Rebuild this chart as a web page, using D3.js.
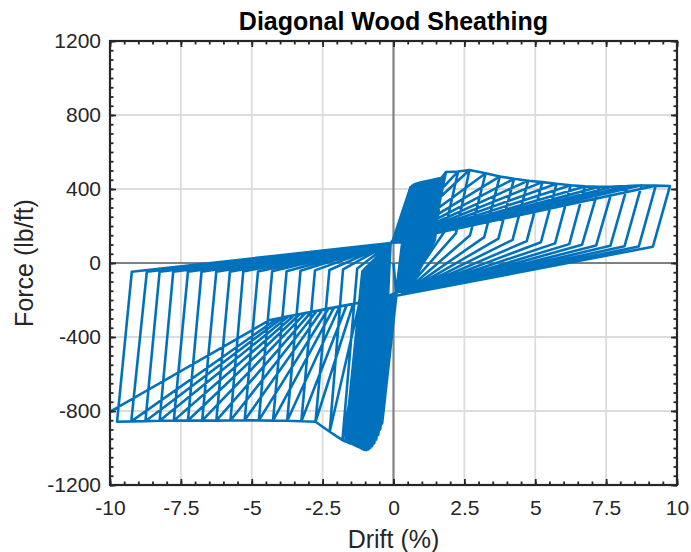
<!DOCTYPE html>
<html>
<head>
<meta charset="utf-8">
<script src="https://cdn.jsdelivr.net/npm/d3@7"></script>
<style>
  html, body { margin: 0; padding: 0; background: #fff; }
  svg { display: block; }
  text { font-family: "Liberation Sans", Arial, Helvetica, sans-serif; }
</style>
</head>
<body>
<svg id="chart" width="691" height="552"></svg>
<script>
// ---- Axis ticks ----
const xTicks = [-10, -7.5, -5, -2.5, 0, 2.5, 5, 7.5, 10];
const yTicks = [-1200, -800, -400, 0, 400, 800, 1200];

// ---- Pinch points the loops pass through near zero drift ----
const pinchUp = [-0.1, 108];
const pinchDown = [0.28, -172];

// ---- Small cycles (drift %, force lb/ft) ----
// negative excursions: shelf knee -> peak -> unloading top
const smallNegKneeDrift = [0.1, 0.07, 0.04, 0.01, -0.02, -0.05, -0.08, -0.11, -0.14, -0.17, -0.2, -0.23, -0.26, -0.29, -0.32, -0.35, -0.38, -0.42, -0.46, -0.5];
const smallNegKneeForce = [-178, -179, -180, -181, -182, -183, -184, -185, -185, -186, -187, -188, -189, -190, -191, -192, -193, -194, -196, -197];
const smallNegDrift = [-0.4, -0.47, -0.54, -0.61, -0.68, -0.75, -0.82, -0.89, -0.96, -1.03, -1.1, -1.17, -1.24, -1.31, -1.38, -1.45, -1.52, -1.58, -1.64, -1.7];
const smallNegForce = [-867, -900, -930, -955, -975, -990, -1000, -1008, -1012, -1010, -1006, -1000, -995, -990, -985, -980, -976, -972, -968, -965];
const smallNegTopDrift = [-0.15, -0.2, -0.25, -0.3, -0.35, -0.4, -0.45, -0.5, -0.55, -0.6, -0.65, -0.7, -0.75, -0.8, -0.85, -0.9, -0.95, -1.0, -1.05, -1.1];
const smallNegTopForce = [-40, -42, -44, -46, -48, -50, -50, -50, -50, -50, -50, -50, -50, -50, -50, -50, -50, -50, -48, -46];

// positive excursions: shelf start -> peak -> drop -> lower pinch
const smallPosShelfDrift = [-0.05, 0.02, 0.09, 0.16, 0.23, 0.3, 0.37, 0.44, 0.51, 0.58, 0.65, 0.72, 0.79, 0.86, 0.93, 1.0, 1.07, 1.14, 1.2, 1.26];
const smallPosShelfForce = [110, 111, 112, 113, 113, 114, 114, 115, 115, 116, 117, 118, 119, 120, 120, 121, 122, 123, 124, 124];
const smallPosDrift = [0.6, 0.66, 0.72, 0.78, 0.84, 0.9, 0.96, 1.02, 1.08, 1.14, 1.2, 1.26, 1.32, 1.38, 1.44, 1.5, 1.56, 1.62, 1.68, 1.74];
const smallPosForce = [410, 418, 424, 428, 431, 434, 436, 438, 440, 442, 444, 446, 448, 450, 452, 454, 456, 458, 461, 465];
const smallPosDropDrift = [0.32, 0.38, 0.44, 0.5, 0.56, 0.62, 0.68, 0.74, 0.8, 0.86, 0.92, 0.98, 1.04, 1.1, 1.16, 1.22, 1.28, 1.34, 1.4, 1.46];
const smallPosDropForce = [125, 125, 125, 125, 125, 125, 125, 125, 125, 125, 125, 125, 125, 125, 125, 125, 125, 125, 125, 125];
const smallPosPinchDrift = [0.1, 0.13, 0.15, 0.18, 0.2, 0.23, 0.25, 0.28, 0.3, 0.33, 0.35, 0.38, 0.4, 0.43, 0.45, 0.48, 0.5, 0.53, 0.56, 0.6];
const smallPosPinchForce = [-150, -149, -148, -147, -146, -145, -144, -143, -142, -141, -140, -139, -138, -137, -136, -135, -134, -133, -132, -131];

// ---- Large cycles ----
const largeNegKneeDrift = [-0.6, -0.9, -1.2, -1.42, -1.65, -1.9, -2.1, -2.3, -2.5, -2.7, -2.9, -3.1, -3.3, -3.5, -3.7, -3.9, -4.1];
const largeNegKneeForce = [-198, -207, -216, -220, -227, -235, -241, -247, -252, -258, -264, -270, -276, -282, -288, -294, -300];
const largeNegDrift = [-1.8, -2.25, -2.75, -3.25, -3.75, -4.25, -4.75, -5.25, -5.75, -6.25, -6.75, -7.25, -7.75, -8.25, -8.75, -9.25, -9.75];
const largeNegForce = [-957, -912, -858, -855, -853, -852, -851, -850, -851, -852, -852, -851, -852, -853, -855, -856, -858];
const largeNegTopDrift = [-1.28, -1.78, -2.26, -2.77, -3.28, -3.77, -4.28, -4.78, -5.3, -5.77, -6.25, -6.77, -7.25, -7.77, -8.25, -8.7, -9.23];
const largeNegTopForce = [-30, -35, -38, -40, -42, -44, -45, -46, -46, -47, -47, -47, -47, -47, -47, -47, -47];

const largePosDrift = [1.85, 2.28, 2.68, 3.25, 3.75, 4.25, 4.75, 5.25, 5.75, 6.25, 6.75, 7.25, 7.75, 8.25, 8.75, 9.25, 9.75];
const largePosForce = [492, 495, 503, 485, 468, 455, 445, 437, 428, 420, 414, 412, 413, 416, 420, 418, 416];
const largePosDropDrift = [1.45, 1.8, 2.2, 2.7, 3.2, 3.7, 4.2, 4.7, 5.2, 5.7, 6.2, 6.65, 7.15, 7.65, 8.15, 8.65, 9.15];
const largePosDropForce = [200, 170, 160, 150, 140, 132, 125, 118, 112, 106, 102, 98, 95, 93, 91, 89, 88];

// ---- Final excursion ----
const finalDrift = [-4.36, -10.0];
const finalForce = [-308, -804];

// ---- Assemble the force-drift trace in loading order ----
const trace = [[0, 0]];
for (let i = 0; i < smallNegDrift.length; i++) {
  trace.push([smallNegKneeDrift[i], smallNegKneeForce[i]]);
  trace.push([smallNegDrift[i], smallNegForce[i]]);
  trace.push([smallNegTopDrift[i], smallNegTopForce[i]]);
  trace.push(pinchUp);
  trace.push([smallPosShelfDrift[i], smallPosShelfForce[i]]);
  trace.push([smallPosDrift[i], smallPosForce[i]]);
  trace.push([smallPosDropDrift[i], smallPosDropForce[i]]);
  trace.push([smallPosPinchDrift[i], smallPosPinchForce[i]]);
}
trace.push(pinchDown);
const nS = smallNegDrift.length;
for (let j = 0; j < largeNegDrift.length; j++) {
  const prevNeg = j === 0 ? [smallNegDrift[nS - 1], smallNegForce[nS - 1]]
                          : [largeNegDrift[j - 1], largeNegForce[j - 1]];
  const prevPos = j === 0 ? [smallPosDrift[nS - 1], smallPosForce[nS - 1]]
                          : [largePosDrift[j - 1], largePosForce[j - 1]];
  trace.push([largeNegKneeDrift[j], largeNegKneeForce[j]]);
  trace.push(prevNeg);
  trace.push([largeNegDrift[j], largeNegForce[j]]);
  trace.push([largeNegTopDrift[j], largeNegTopForce[j]]);
  trace.push(pinchUp);
  trace.push(prevPos);
  trace.push([largePosDrift[j], largePosForce[j]]);
  trace.push([largePosDropDrift[j], largePosDropForce[j]]);
  trace.push(pinchDown);
}
for (let k = 0; k < finalDrift.length; k++) trace.push([finalDrift[k], finalForce[k]]);

// ---- Layout ----
const svg = d3.select("#chart");
const plotL = 110, plotR = 677, plotT = 41, plotB = 485;
const x = d3.scaleLinear().domain([-10, 10]).range([plotL, plotR]);
const y = d3.scaleLinear().domain([-1200, 1200]).range([plotB, plotT]);
const ink = "#262626";
const fontFam = '"Liberation Sans", Arial, Helvetica, sans-serif';

svg.append("defs").append("clipPath").attr("id", "plotClip")
  .append("rect").attr("x", plotL).attr("y", plotT)
  .attr("width", plotR - plotL).attr("height", plotB - plotT);

// grid
const grid = svg.append("g");
xTicks.filter(v => v !== 0 && Math.abs(v) !== 10).forEach(v => {
  grid.append("line").attr("x1", x(v)).attr("x2", x(v)).attr("y1", plotT).attr("y2", plotB)
    .attr("stroke", "#dcdcdc").attr("stroke-width", 1.8);
});
yTicks.filter(v => v !== 0 && Math.abs(v) !== 1200).forEach(v => {
  grid.append("line").attr("y1", y(v)).attr("y2", y(v)).attr("x1", plotL).attr("x2", plotR)
    .attr("stroke", "#dcdcdc").attr("stroke-width", 1.8);
});

// zero reference lines
grid.append("line").attr("x1", x(0)).attr("x2", x(0)).attr("y1", plotT).attr("y2", plotB)
  .attr("stroke", "#808080").attr("stroke-width", 2.2);
grid.append("line").attr("y1", y(0)).attr("y2", y(0)).attr("x1", plotL).attr("x2", plotR)
  .attr("stroke", "#808080").attr("stroke-width", 2.2);

// hysteresis trace
const line = d3.line().x(d => x(d[0])).y(d => y(d[1]));
svg.append("path")
  .datum(trace)
  .attr("clip-path", "url(#plotClip)")
  .attr("d", line)
  .attr("fill", "none")
  .attr("stroke", "#0072BD")
  .attr("stroke-width", 2.6)
  .attr("stroke-linejoin", "round");

// axes with inward ticks on all four sides
const xMinor = d3.range(-10, 10.001, 0.5);
const yMinor = d3.range(-1200, 1200.1, 50);
function styleAxis(g) {
  g.select(".domain").remove();
  g.selectAll("line").attr("stroke", ink).attr("stroke-width", 1.8);
  g.selectAll("text").attr("fill", ink).attr("font-size", 21).attr("font-family", fontFam);
}
const fmtTick = d => String(d);
svg.append("g").attr("transform", `translate(0,${plotB})`)
  .call(d3.axisBottom(x).tickValues(xTicks).tickSize(-6).tickPadding(15).tickFormat(fmtTick))
  .call(styleAxis);
svg.append("g").attr("transform", `translate(0,${plotB})`)
  .call(d3.axisBottom(x).tickValues(xMinor).tickSize(-3.5).tickFormat(""))
  .call(styleAxis);
svg.append("g").attr("transform", `translate(0,${plotT})`)
  .call(d3.axisTop(x).tickValues(xTicks).tickSize(-6).tickFormat(""))
  .call(styleAxis);
svg.append("g").attr("transform", `translate(0,${plotT})`)
  .call(d3.axisTop(x).tickValues(xMinor).tickSize(-3.5).tickFormat(""))
  .call(styleAxis);
svg.append("g").attr("transform", `translate(${plotL},0)`)
  .call(d3.axisLeft(y).tickValues(yTicks).tickSize(-6).tickPadding(9).tickFormat(fmtTick))
  .call(styleAxis);
svg.append("g").attr("transform", `translate(${plotL},0)`)
  .call(d3.axisLeft(y).tickValues(yMinor).tickSize(-3.5).tickFormat(""))
  .call(styleAxis);
svg.append("g").attr("transform", `translate(${plotR},0)`)
  .call(d3.axisRight(y).tickValues(yTicks).tickSize(-6).tickFormat(""))
  .call(styleAxis);
svg.append("g").attr("transform", `translate(${plotR},0)`)
  .call(d3.axisRight(y).tickValues(yMinor).tickSize(-3.5).tickFormat(""))
  .call(styleAxis);

// frame
svg.append("rect").attr("x", plotL).attr("y", plotT)
  .attr("width", plotR - plotL).attr("height", plotB - plotT)
  .attr("fill", "none").attr("stroke", ink).attr("stroke-width", 2.2);

// titles
svg.append("text").attr("x", (plotL + plotR) / 2).attr("y", 30)
  .attr("text-anchor", "middle").attr("font-weight", "bold").attr("font-size", 25)
  .attr("fill", "#000").attr("font-family", fontFam).text("Diagonal Wood Sheathing");
svg.append("text").attr("x", (plotL + plotR) / 2).attr("y", 548)
  .attr("text-anchor", "middle").attr("font-size", 25).attr("fill", ink)
  .attr("font-family", fontFam).text("Drift (%)");
svg.append("text").attr("transform", `translate(33,${(plotT + plotB) / 2}) rotate(-90)`)
  .attr("text-anchor", "middle").attr("font-size", 25).attr("fill", ink)
  .attr("font-family", fontFam).text("Force (lb/ft)");
</script>
</body>
</html>
